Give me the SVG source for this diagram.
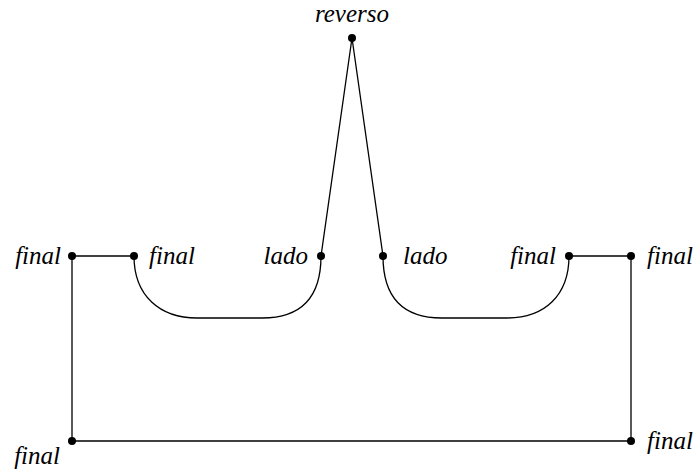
<svg xmlns="http://www.w3.org/2000/svg" width="699" height="472" viewBox="0 0 699 472">
<style>
.e{fill:none;stroke:#000;stroke-width:1.3}
.d{fill:#000}
.t{font-family:'Liberation Serif','DejaVu Serif',serif;font-style:italic;font-size:25px}
</style>
<rect width="699" height="472" fill="#fff"/>
<g id="connectors">
<path class="e" d="M72,256 L134,256"/>
<path class="e" d="M569,256 L631,256"/>
<path class="e" d="M72,256 L72,441 L631,441 L631,256"/>
<path class="e" d="M134,256 C134,296 160,318 197,318 L262,318 C302,318 321,296 321,256"/>
<path class="e" d="M383,256 C383,296 402,318 442,318 L507,318 C544,318 569,296 569,256"/>
<path class="e" d="M321,256 L352,38 L383,256"/>
</g>
<g id="n1"><circle class="d" cx="72" cy="256" r="4"/><text class="t" x="61" y="264" text-anchor="end">final</text></g>
<g id="n2"><circle class="d" cx="134" cy="256" r="4"/><text class="t" x="149" y="264">final</text></g>
<g id="n3"><circle class="d" cx="321" cy="256" r="4"/><text class="t" x="308" y="264" text-anchor="end">lado</text></g>
<g id="n4"><circle class="d" cx="383" cy="256" r="4"/><text class="t" x="403" y="264">lado</text></g>
<g id="n5"><circle class="d" cx="569" cy="256" r="4"/><text class="t" x="556" y="264" text-anchor="end">final</text></g>
<g id="n6"><circle class="d" cx="631" cy="256" r="4"/><text class="t" x="647" y="264">final</text></g>
<g id="n7"><circle class="d" cx="352" cy="38" r="4"/><text class="t" x="352" y="22" text-anchor="middle">reverso</text></g>
<g id="n8"><circle class="d" cx="72" cy="441" r="4"/><text class="t" x="60" y="464" text-anchor="end">final</text></g>
<g id="n9"><circle class="d" cx="631" cy="441" r="4"/><text class="t" x="647" y="449">final</text></g>
</svg>
